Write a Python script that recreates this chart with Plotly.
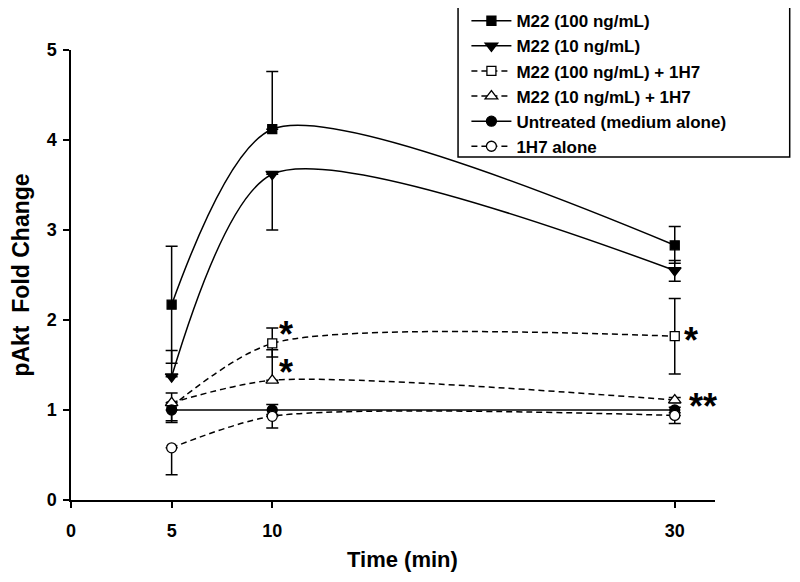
import plotly.graph_objects as go

# ---- data ----
time_min = [5, 10, 30]

m22_100 = [2.17, 4.12, 2.83]
m22_100_plus = [0.65, 0.64, 0.21]
m22_100_minus = [0.65, 0.0, 0.20]

m22_10 = [1.37, 3.62, 2.55]
m22_10_plus = [0.29, 0.0, 0.11]
m22_10_minus = [0.0, 0.62, 0.12]

m22_100_1h7 = [1.04, 1.74, 1.82]
m22_100_1h7_plus = [0.15, 0.17, 0.42]
m22_100_1h7_minus = [0.16, 0.15, 0.42]

m22_10_1h7 = [1.08, 1.33, 1.11]
m22_10_1h7_plus = [0.0, 0.34, 0.03]
m22_10_1h7_minus = [0.0, 0.0, 0.03]

untreated = [1.0, 1.0, 1.0]
untreated_plus = [0.0, 0.06, 0.03]
untreated_minus = [0.14, 0.05, 0.03]

h7_alone = [0.58, 0.93, 0.94]
h7_alone_plus = [0.0, 0.0, 0.0]
h7_alone_minus = [0.30, 0.13, 0.09]

x_ticks = [0, 5, 10, 30]
y_ticks = [0, 1, 2, 3, 4, 5]

series = [
    ("M22 (100 ng/mL)", m22_100, m22_100_plus, m22_100_minus, "solid", "square", "black", 9),
    ("M22 (10 ng/mL)", m22_10, m22_10_plus, m22_10_minus, "solid", "triangle-down", "black", 11),
    ("M22 (100 ng/mL) + 1H7", m22_100_1h7, m22_100_1h7_plus, m22_100_1h7_minus, "6px,4px", "square", "white", 9),
    ("M22 (10 ng/mL) + 1H7", m22_10_1h7, m22_10_1h7_plus, m22_10_1h7_minus, "6px,4px", "triangle-up", "white", 11),
    ("Untreated (medium alone)", untreated, untreated_plus, untreated_minus, "solid", "circle", "black", 10),
    ("1H7 alone", h7_alone, h7_alone_plus, h7_alone_minus, "6px,4px", "circle", "white", 10),
]

fig = go.Figure()
for name, y, ep, em, dash, sym, fill, size in series:
    fig.add_trace(go.Scatter(
        x=time_min, y=y, name=f"<b>{name}</b>", mode="lines+markers",
        line=dict(color="black", width=1.5, dash=dash, shape="spline", smoothing=0.75),
        marker=dict(symbol=sym, size=size, color=fill, line=dict(color="black", width=1.3)),
        error_y=dict(type="data", symmetric=False, array=ep, arrayminus=em,
                     color="black", thickness=1.5, width=6),
    ))

# significance marks
stars = [(10.7, 1.93, "*"), (10.7, 1.51, "*"), (30.8, 1.86, "*"), (31.4, 1.13, "**")]
for sx, sy, st in stars:
    fig.add_annotation(x=sx, y=sy, text=f"<b>{st}</b>", showarrow=False,
                       font=dict(size=36, color="black", family="Liberation Sans"),
                       xanchor="center", yanchor="middle", yshift=-8)

# x-axis title
fig.add_annotation(x=0.5155, y=-0.1333, xref="paper", yref="paper",
                   text="<b>Time (min)</b>", showarrow=False,
                   font=dict(size=22, color="black", family="Liberation Sans"),
                   xanchor="center", yanchor="middle")

# legend frame
fig.add_shape(type="rect", xref="paper", yref="paper",
              x0=0.601, x1=1.116, y0=0.762, y1=1.104,
              line=dict(color="black", width=1.5), fillcolor="white", layer="above")

fig.update_layout(
    width=784, height=566,
    margin=dict(l=63, r=77, t=42, b=74, autoexpand=False),
    paper_bgcolor="white", plot_bgcolor="white",
    font=dict(family="Liberation Sans", color="black"),
    showlegend=True,
    legend=dict(
        x=0.614, y=1.104, xanchor="left", yanchor="top",
        bgcolor="rgba(0,0,0,0)", borderwidth=0,
        font=dict(size=17, family="Liberation Sans", color="black"),
        tracegroupgap=0, itemwidth=40,
    ),
    xaxis=dict(
        range=[0, 32], tickvals=x_ticks, ticktext=[f"<b>{t}</b>" for t in x_ticks],
        showline=True, linecolor="black", linewidth=1.5,
        ticks="outside", ticklen=6, tickwidth=1.5, tickcolor="black",
        showgrid=False, zeroline=False, automargin=False,
        tickfont=dict(size=18), ticklabelstandoff=8,
    ),
    yaxis=dict(
        range=[0, 5], tickvals=y_ticks, ticktext=[f"<b>{t}</b>" for t in y_ticks],
        showline=True, linecolor="black", linewidth=1.5,
        ticks="outside", ticklen=6, tickwidth=1.5, tickcolor="black",
        showgrid=False, zeroline=False, automargin=False,
        tickfont=dict(size=18), ticklabelstandoff=3,
        title=dict(text="<b>pAkt\u00a0 Fold Change</b>", font=dict(size=23), standoff=25),
    ),
)

fig.write_html("out.html")
